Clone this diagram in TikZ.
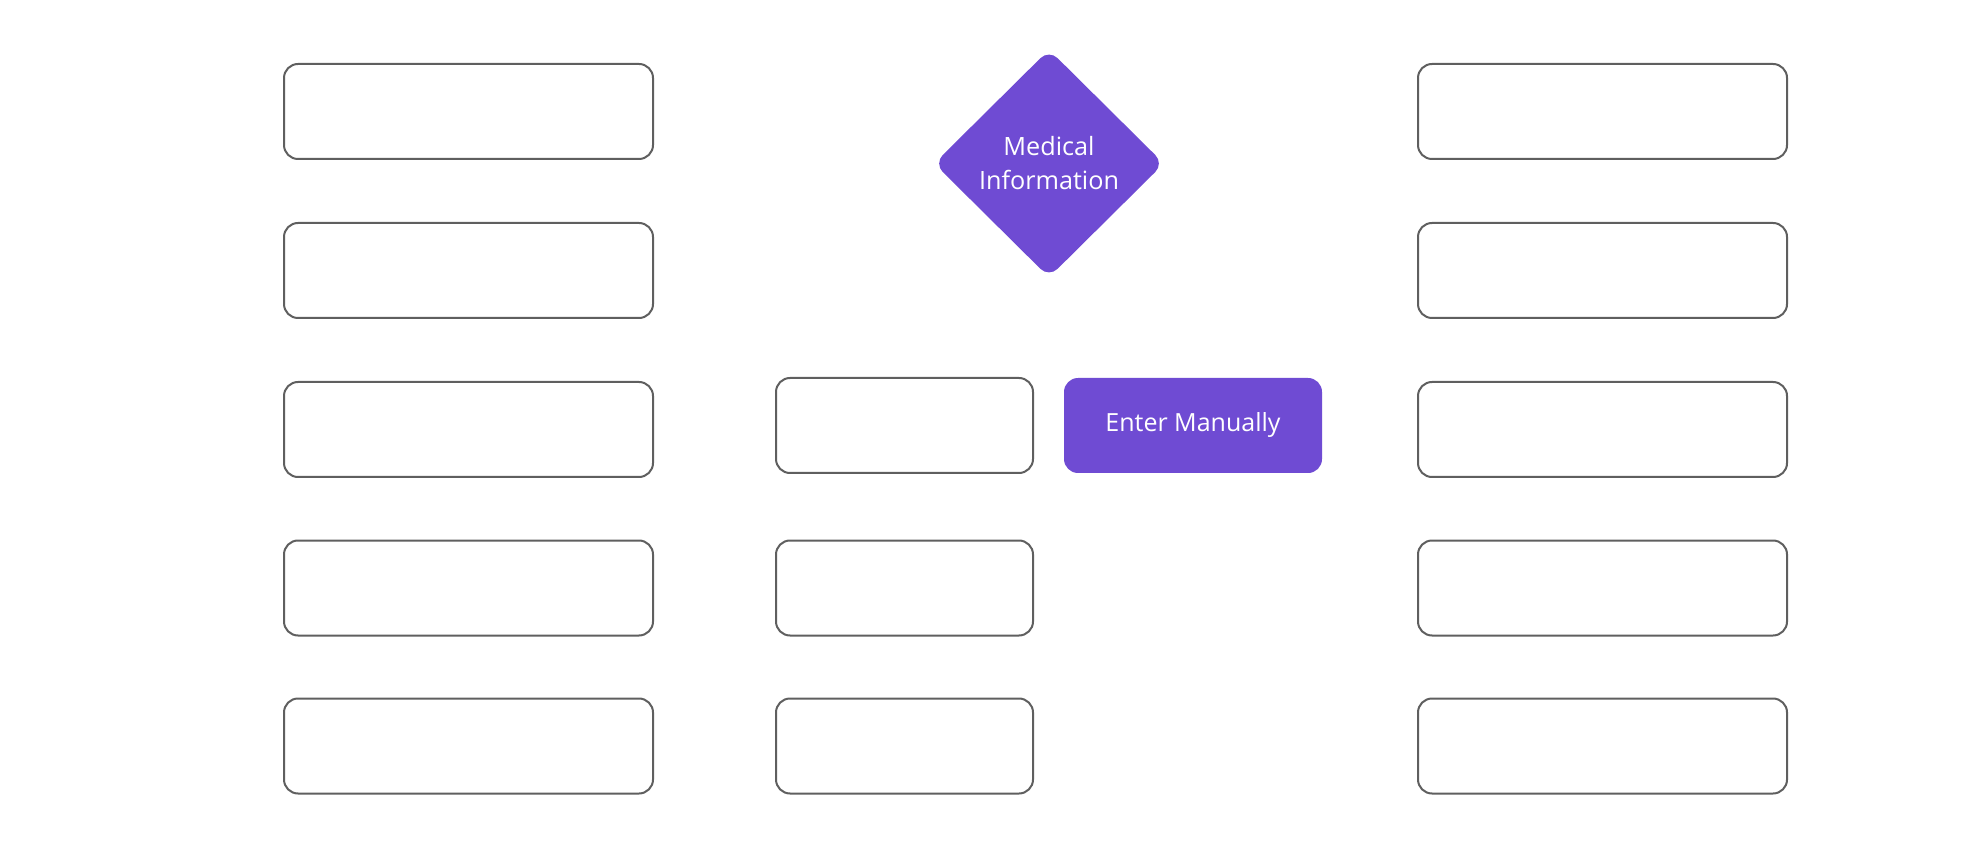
\documentclass[tikz,border=0pt]{standalone}
\usepackage{fontspec}
\setmainfont{Open Sans}
\usetikzlibrary{shapes.geometric,positioning}
\definecolor{medPurple}{RGB}{111,75,211}
\definecolor{frameGray}{RGB}{95,95,95}

\begin{document}
\begin{tikzpicture}[x=0.5pt,y=-0.5pt,
    emptybox/.style={draw=frameGray, line width=1pt, rounded corners=7pt, fill=white, minimum height=47.5pt, inner sep=0pt},
    widebox/.style={emptybox, minimum width=184.5pt},
    smallbox/.style={emptybox, minimum width=128.5pt},
    choice/.style={diamond, fill=medPurple, text=white, rounded corners=6pt, minimum width=115pt, minimum height=114pt, inner sep=0pt, align=center, font=\fontsize{12.6}{17}\selectfont},
    action/.style={rectangle, fill=medPurple, text=white, rounded corners=7pt, minimum width=129pt, minimum height=47.5pt, font=\fontsize{12.5}{17}\selectfont}]
    \useasboundingbox (0,0) rectangle (1968,860);
    % side columns
    \foreach \i/\yy in {1/111.5, 2/270.5, 3/429.5, 4/588, 5/746}{
        \node[widebox] (left-\i) at (468.5,\yy) {};
        \node[widebox] (right-\i) at (1602.5,\yy) {};
    }
    % middle column
    \foreach \i/\yy in {1/425.5, 2/588, 3/746}{
        \node[smallbox] (mid-\i) at (904.5,\yy) {};
    }
    \node[choice] (medinfo) at (1049,163.5) {Medical\\Information};
    \node[action] (manual) at (1193,425.5) {\raisebox{-2pt}{Enter Manually}};
\end{tikzpicture}
\end{document}
